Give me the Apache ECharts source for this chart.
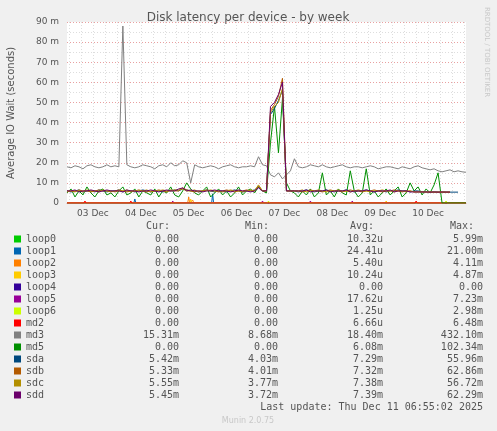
<!DOCTYPE html>
<html><head><meta charset="utf-8">
<script src="https://cdn.jsdelivr.net/npm/echarts@6/dist/echarts.min.js"></script>
<style>html,body{margin:0;padding:0;background:#f0f0f0}#c{width:497px;height:431px}</style>
</head><body><div id="c"></div>
<script>
// hours since 03 Dec 00:00, series sampled every 2h starting at hour -1
var startHour = -1, stepHours = 2;
var dayLabels = ['03 Dec','04 Dec','05 Dec','06 Dec','07 Dec','08 Dec','09 Dec','10 Dec'];

var md3 = [18,17.5,18.5,18,17,18.5,19,18,17.5,18,19,18,18.5,18,
  88,19,18,17.5,18,19,18.5,18,17,18.5,19,
  18,20,18.5,19,21,20,10,
  19,18,17.5,18,18.5,18,17,18,18.5,19,18,17.5,18,18,18.5,18,
  23,19,18.5,14,13,15,12,14,16,22,
  18,17.5,18,19,18.5,18,19,18,17.5,18,18.5,19,18,17.5,18,18,17.5,18,18.5,18,17,17.5,
  18,18,17.5,17,18,17.5,17,18,18.5,17.5,17,16.5,17,16,15.5,16,16.5,15.5,16,15.5,15.3];
var md5 = [5,7,3,6,4,8,5,3,6,7,4,5,3,6,8,4,5,7,3,6,5,4,7,3,6,5,8,4,3,6,
  10,7,5,4,6,8,3,5,7,4,6,3,5,8,4,6,7,5,8,6,
  5,30,48,25,52,10,6,
  5,3,6,4,7,3,5,15,4,6,3,7,5,4,16,6,3,5,17,4,6,3,5,7,4,6,8,3,5,10,6,8,4,7,5,9,15,0,0,0,0,0,0,0];
var sda = [6,5.5,6,6.5,5.5,6,6,5.5,6.5,6,5.5,6,6,6.5,5.5,6,6,5.5,6,6.5,6,5.5,6,6,5.5,6,
  6,6.5,6,7,6.5,6,6,5.5,6,6.5,6,5.5,6,6,5.5,6,6.5,6,5.5,6,6,6.5,8,6,
  6,44,47,51,56,6,6,
  6,5.5,6,6.5,6,5.5,6,6,6.5,6,5.5,6,6,6.5,6,5.5,6,6,6.5,6,5.5,6,6,5.5,6,6,6.5,6,6,5.5,6,6,5.5,5.5,5.5,5.5,5.5,5.4,5.4,5.4,5.4,5.4];
var sdb = [6,6,5.5,6.5,6,6,5.5,6,6.5,6,6,5.5,6,6.5,6,5.5,6,6,6.5,6,5.5,6,6,6.5,6,5.5,
  6.5,6,6,7.5,6.5,6,5.5,6,6,6.5,6,6,5.5,6,6.5,6,5.5,6,6,6.5,6,6,8.5,6,
  6,46,49,53,62,6,6,
  6,6,5.5,6,6.5,6,6,5.5,6,6.5,6,6,5.5,6,6.5,6,6,5.5,6,6,6.5,6,5.5,6,6,6.5,6,5.5,6,6,5.5,5.5,5.5,5.4,5.4,5.3,5.3,5.3,5.3,5.3];
var sdc = [5.5,6,6,6,5.5,6.5,6,6,5.5,6.5,6,6,5.5,6,6,6.5,5.5,6,6,6,6.5,5.5,6,6,6.5,6,
  6,6.5,6.5,7,6,6,6.5,5.5,6,6,6.5,6,6,5.5,6,6.5,6,6,5.5,6,6.5,6,9,6,
  6,45,48,50,57,6,6,
  6,6,6.5,5.5,6,6,6.5,6,5.5,6,6,6.5,6,6,5.5,6,6.5,6,6,5.5,6,6,6.5,6,6,5.5,6,6,5.5,6,5.5,5.5,5.6,5.5,5.5,5.5,5.5,5.6,5.5,5.55];
var sdd = [6,6,6.5,5.5,6,6,6.5,6,5.5,6,6.5,6,6,6,5.5,6.5,6,6,5.5,6,6,6.5,6,5.5,6,6.5,
  6,6,7,7.5,6,6.5,6,6,5.5,6,6,6.5,6,6,6,5.5,6,6.5,6,6,5.5,6,7.5,6,
  6,48,50,54,60,6,6,
  6,6,6,6.5,5.5,6,6,6,6.5,5.5,6,6,6,6.5,5.5,6,6,6,6.5,6,5.5,6,6,6,6.5,5.5,6,6,6,5.5,5.5,5.5,5.5,5.5,5.4,5.5,5.4,5.5,5.45,5.45];
// small spikes [hour, value] on otherwise zero series
var loop1Spikes = [[33,2],[72,4.5]];
var loop2Spikes = [[60,3],[62,1.5]];
var loop3Spikes = [[61,2],[159,1]];
var loop5Spikes = [[52,1],[97,1],[121,1],[142,1]];
var loop6Spikes = [[100,1],[189,1]];
var md2Spikes = [[8,1],[31,1],[174,1]];

var names = ['loop0','loop1','loop2','loop3','loop4','loop5','loop6','md2','md3','md5','sda','sdb','sdc','sdd'];
var colors = ['#00cc00','#0066b3','#ff8000','#ffcc00','#330099','#990099','#ccff00','#ff0000','#808080','#008f00','#00487d','#b35a00','#b38f00','#6b006b'];
var curVals = ['0.00','0.00','0.00','0.00','0.00','0.00','0.00','0.00','15.31m','0.00','5.42m','5.33m','5.55m','5.45m'];
var minVals = ['0.00','0.00','0.00','0.00','0.00','0.00','0.00','0.00','8.68m','0.00','4.03m','4.01m','3.77m','3.72m'];
var avgVals = ['10.32u','24.41u','5.40u','10.24u','0.00','17.62u','1.25u','6.66u','18.40m','6.08m','7.29m','7.32m','7.38m','7.39m'];
var maxVals = ['5.99m','21.00m','4.11m','4.87m','0.00','7.23m','2.98m','6.48m','432.10m','102.34m','55.96m','62.86m','56.72m','62.29m'];

function regular(vals) {
  return vals.map(function (v, i) { return [startHour + i * stepHours, v]; });
}
function spikes(list) {
  var d = [[startHour, 0]];
  list.forEach(function (s) { d.push([s[0] - 0.5, 0], [s[0], s[1]], [s[0] + 0.5, 0]); });
  d.push([199, 0]);
  return d;
}
var seriesData = {
  loop0: spikes([]), loop1: spikes(loop1Spikes), loop2: spikes(loop2Spikes), loop3: spikes(loop3Spikes),
  loop4: spikes([]), loop5: spikes(loop5Spikes), loop6: spikes(loop6Spikes), md2: spikes(md2Spikes),
  md3: regular(md3), md5: regular(md5), sda: regular(sda), sdb: regular(sdb), sdc: regular(sdc), sdd: regular(sdd)
};

var chart = echarts.init(document.getElementById('c'));
var mono = 'DejaVu Sans Mono';
var graphics = [];
var cols = [179, 278, 383, 483];
['Cur:','Min:','Avg:','Max:'].forEach(function (h, j) {
  graphics.push({type:'text', x: cols[j] - 9, y: 226, style:{text:h, font:'10px ' + mono, fill:'#555', align:'right', verticalAlign:'middle'}});
});
names.forEach(function (n, i) {
  var y = 239 + i * 12;
  graphics.push({type:'rect', shape:{x:14, y:y - 3.5, width:7, height:7}, style:{fill:colors[i]}});
  graphics.push({type:'text', x:26, y:y, style:{text:n, font:'10px ' + mono, fill:'#555', verticalAlign:'middle'}});
  [curVals, minVals, avgVals, maxVals].forEach(function (arr, j) {
    graphics.push({type:'text', x:cols[j], y:y, style:{text:arr[i], font:'10px ' + mono, fill:'#555', align:'right', verticalAlign:'middle'}});
  });
});
graphics.push({type:'text', x:483, y:407, style:{text:'Last update: Thu Dec 11 06:55:02 2025', font:'10px ' + mono, fill:'#555', align:'right', verticalAlign:'middle'}});
graphics.push({type:'text', x:248, y:421, style:{text:'Munin 2.0.75', font:'8px DejaVu Sans', fill:'#c8c8c8', align:'center', verticalAlign:'middle'}});
graphics.push({type:'text', x:248, y:18, style:{text:'Disk latency per device - by week', font:'12px DejaVu Sans', fill:'#555', align:'center', verticalAlign:'middle'}});
graphics.push({type:'text', x:11, y:113, rotation:Math.PI/2, style:{text:'Average IO Wait (seconds)', font:'10px DejaVu Sans', fill:'#555', align:'center', verticalAlign:'middle'}});
graphics.push({type:'text', x:487, y:52, rotation:-Math.PI/2, style:{text:'RRDTOOL / TOBI OETIKER', font:'7px DejaVu Sans', fill:'#c8c8c8', align:'center', verticalAlign:'middle'}});

var dayTicks = [0,24,48,72,96,120,144,168,192];
var sixHours = [];
for (var h = 0; h <= 198; h += 6) sixHours.push(h);

chart.setOption({
  backgroundColor: '#f0f0f0',
  animation: false,
  grid: {left: 67, right: 31, top: 22, bottom: 228, backgroundColor: '#fff', show: true, borderWidth: 0},
  xAxis: [{
    type: 'value', min: -1, max: 199,
    axisLine: {show: true, lineStyle: {color: '#e0a0a0'}},
    axisTick: {show: false, customValues: dayTicks},
    splitLine: {show: true, lineStyle: {color: '#e8a0a0', type: [1, 2]}},
    axisLabel: {customValues: [12,36,60,84,108,132,156,180], color: '#555', fontFamily: 'DejaVu Sans', fontSize: 9, margin: 6,
      formatter: function (v) { return dayLabels[Math.round((v - 12) / 24)]; }}
  }, {
    type: 'value', min: -1, max: 199, show: true,
    axisLine: {show: false}, axisTick: {show: false, customValues: sixHours}, axisLabel: {show: false, customValues: sixHours},
    splitLine: {show: true, lineStyle: {color: '#ddd', type: [1, 2]}}
  }],
  yAxis: {
    type: 'value', min: 0, max: 90, interval: 10,
    axisLine: {show: false}, axisTick: {show: false},
    splitLine: {lineStyle: {color: '#e8a0a0', type: [1, 2]}},
    minorTick: {show: false, splitNumber: 2},
    minorSplitLine: {show: true, lineStyle: {color: '#ddd', type: [1, 2]}},
    axisLabel: {color: '#555', fontFamily: 'DejaVu Sans', fontSize: 9, formatter: function (v) { return v === 0 ? '0' : v + ' m'; }}
  },
  graphic: graphics,
  series: names.map(function (n, i) {
    return {name: n, type: 'line', data: seriesData[n], showSymbol: false, color: colors[i],
      lineStyle: {width: 1}, z: 2 + i};
  })
});
</script></body></html>
